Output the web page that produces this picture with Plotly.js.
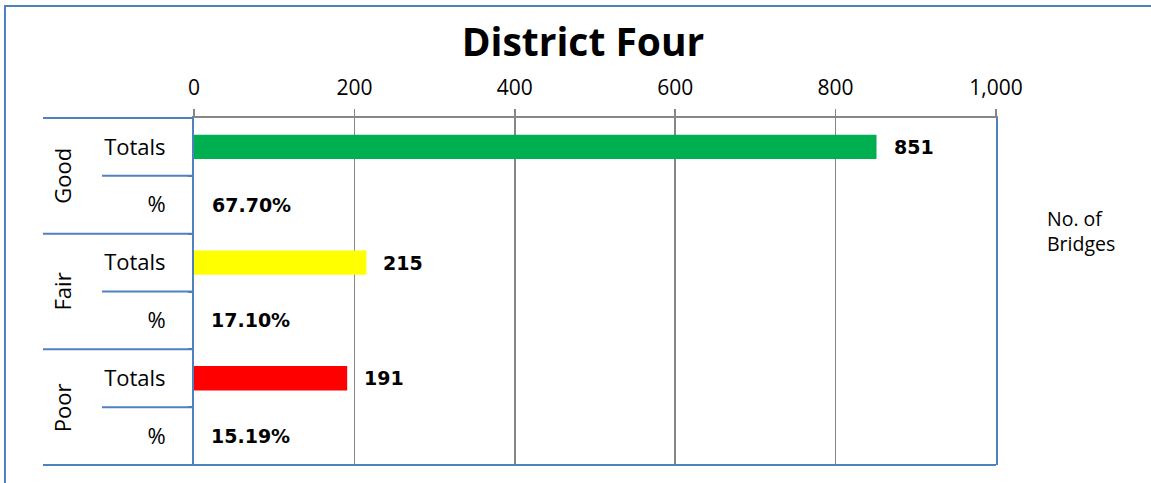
<!DOCTYPE html>
<html>
<head>
<meta charset="utf-8">
<script src="https://cdn.plot.ly/plotly-3.0.1.min.js"></script>
<style>html,body{margin:0;padding:0;background:#fff;}#chart{width:1151px;height:483px;}</style>
</head>
<body>
<div id="chart"></div>
<script>
// ---- data ----
const groups = ['Good', 'Fair', 'Poor'];
const subLabels = ['Totals', '%'];
const totals = [851, 215, 191];
const percents = [67.70, 17.10, 15.19];
const groupColors = ['#00B050', '#FFFF00', '#FF0000'];
const xTickVals = [0, 200, 400, 600, 800, 1000];
const chartTitle = 'District Four';
const seriesName = 'No. of<br>Bridges';

// ---- build rows ----
const keys = [], ticktext = [], xs = [], colors = [], labels = [];
groups.forEach((g, i) => {
  keys.push(g + ' | ' + subLabels[0]); ticktext.push(subLabels[0]);
  xs.push(totals[i]); colors.push(groupColors[i]); labels.push(String(totals[i]));
  keys.push(g + ' | ' + subLabels[1]); ticktext.push(subLabels[1]);
  xs.push(percents[i] / 100); colors.push('rgba(0,0,0,0)'); labels.push(percents[i].toFixed(2) + '%');
});
const nRows = keys.length;
const idxToPaper = idx => 1 - (idx + 0.5) / nRows;

const blue = '#4F81BD';
const gray = '#868686';

const trace = {
  type: 'bar', orientation: 'h',
  y: keys, x: xs,
  marker: {color: colors, line: {width: 0}},
  width: 0.42,
  hoverinfo: 'skip',
  showlegend: false
};

const annotations = [];
keys.forEach((k, i) => {
  annotations.push({
    x: xs[i], y: k, xref: 'x', yref: 'y',
    text: labels[i], showarrow: false,
    xanchor: 'left', yanchor: 'middle', xshift: 15,
    font: {family: 'DejaVu Sans', size: 19, color: '#000', weight: 'bold'}
  });
});
groups.forEach((g, gi) => {
  const center = gi * subLabels.length + (subLabels.length - 1) / 2;
  annotations.push({
    x: -0.1646, xref: 'paper', y: idxToPaper(center), yref: 'paper',
    text: g, showarrow: false, textangle: -90,
    xanchor: 'center', yanchor: 'middle',
    font: {family: 'Open Sans', size: 22, color: '#000'}
  });
});
annotations.push({
  x: 1.061, xref: 'paper', y: 0.674, yref: 'paper',
  text: seriesName, showarrow: false, align: 'left',
  xanchor: 'left', yanchor: 'middle',
  font: {family: 'Open Sans', size: 19.5, color: '#000'}
});

const shapes = [];
// outer chart frame
shapes.push({type: 'rect', xref: 'paper', yref: 'paper',
  x0: -0.2357, x1: 1.4, y0: -0.3, y1: 1.3228,
  line: {color: blue, width: 2}, fillcolor: 'rgba(0,0,0,0)', layer: 'below'});
// group dividers
for (let gi = 0; gi <= groups.length; gi++) {
  const idx = gi * subLabels.length - 0.5;
  shapes.push({type: 'line', xref: 'paper', yref: 'paper',
    x0: -0.1883, x1: gi === groups.length ? 1 : 0,
    y0: idxToPaper(idx), y1: idxToPaper(idx),
    line: {color: blue, width: 2}});
}
// sub dividers
for (let gi = 0; gi < groups.length; gi++) {
  const idx = gi * subLabels.length + 0.5;
  shapes.push({type: 'line', xref: 'paper', yref: 'paper',
    x0: -0.1147, x1: 0, y0: idxToPaper(idx), y1: idxToPaper(idx),
    line: {color: blue, width: 2}});
}

const layout = {
  width: 1151, height: 483,
  margin: {l: 194, r: 155, t: 118, b: 18},
  paper_bgcolor: '#fff', plot_bgcolor: '#fff',
  title: {
    text: chartTitle, xref: 'container', x: 0.5065, xanchor: 'center',
    yref: 'container', y: 0.913, yanchor: 'middle',
    font: {family: 'Open Sans', size: 39, color: '#000', weight: 'bold'}
  },
  xaxis: {
    side: 'top', range: [0, 1000], tickvals: xTickVals, tickformat: ',d',
    showgrid: true, gridcolor: gray, gridwidth: 1.5,
    showline: true, linecolor: gray, linewidth: 2,
    ticks: 'outside', ticklen: 7, tickcolor: gray, tickwidth: 1.5,
    tickfont: {family: 'Open Sans', size: 21, color: '#000'},
    ticklabelstandoff: 6,
    zeroline: false, fixedrange: true
  },
  yaxis: {
    type: 'category', autorange: 'reversed',
    tickvals: keys, ticktext: ticktext,
    tickson: 'boundaries', ticks: 'outside', ticklen: 4, tickcolor: blue, tickwidth: 2,
    showline: true, linecolor: blue, linewidth: 2, mirror: true,
    showgrid: false, zeroline: false,
    tickfont: {family: 'Open Sans', size: 22, color: '#000'},
    ticklabelstandoff: 22, fixedrange: true
  },
  annotations: annotations,
  shapes: shapes,
  bargap: 0.58,
  showlegend: false,
  hovermode: false
};

Plotly.newPlot('chart', [trace], layout, {staticPlot: true, displayModeBar: false});
</script>
</body>
</html>
